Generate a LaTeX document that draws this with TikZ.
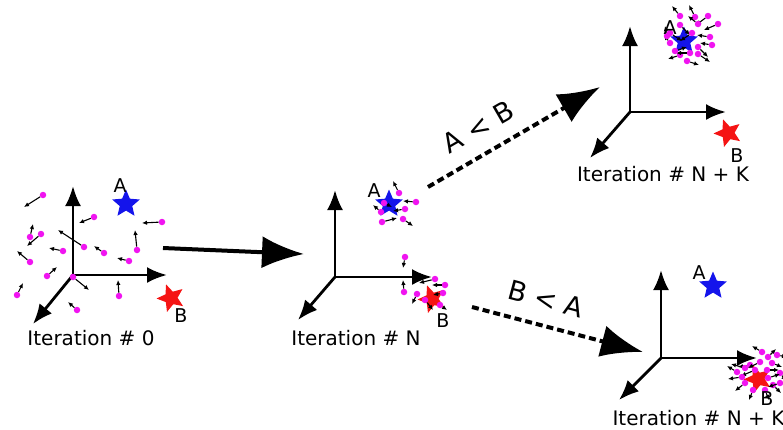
\documentclass[tikz,border=0pt]{standalone}
\usepackage{fontspec}
\setmainfont{DejaVu Sans}
\usetikzlibrary{arrows.meta,shapes.geometric}
\definecolor{dotpink}{RGB}{240,20,240}
\definecolor{starblue}{RGB}{20,20,235}
\definecolor{starred}{RGB}{245,20,20}

\begin{document}
\begin{tikzpicture}[x=1pt,y=-1pt,
  axis/.style={line width=2.8pt,-{Latex[length=20pt,width=16pt]}},
  bigarrow/.style={line width=4pt,-{Latex[length=42pt,width=32pt]}},
  dasharrow/.style={bigarrow,dash pattern=on 7pt off 4pt},
  pt/.style={circle,fill=dotpink,inner sep=0pt,minimum size=6.5pt},
  vec/.style={line width=1.1pt,-{Latex[length=5pt,width=4.5pt]}},
  tag/.style={font=\fontsize{19}{22}\selectfont},
  caption/.style={font=\fontsize{20}{24}\selectfont},
  starA/.style={star,star points=5,star point ratio=2.2,fill=starblue,inner sep=0pt,minimum size=29pt},
  starB/.style={star,star points=5,star point ratio=2.2,fill=starred,inner sep=0pt,minimum size=29pt,rotate=20}]
\useasboundingbox (0,0) rectangle (783,429);

% Iteration 0
\coordinate (o0) at (73,275);
\coordinate (o0y) at (73,186);
\coordinate (o0x) at (167,275);
\coordinate (o0z) at (33,324);
\draw[axis] (o0) -- (o0y);
\draw[axis] (o0) -- (o0x);
\draw[axis] (o0) -- (o0z);
\foreach \x/\y/\u/\v in {43/195/-19/12, 94/217/-15/6, 162/222/-20/1, 30/237/3/-13,
    41/234/-14/12, 63/251/-14/-3, 84/247/-26/-17, 104/253/-10/-7, 137/250/-2/-20,
    129/261/-12/-3, 30/262/-13/-11, 47/276/10/-9, 73/277/16/13, 17/295/6/-12,
    119/296/-1/-16, 77/310/-9/-8}
  {\node[pt] (p) at (\x,\y) {}; \draw[vec] (p) -- ++(\u,\v);}
\node[starA] (a0) at (126,204) {};
\node[tag] (la0) at (120,186) {A};
\node[starB] (b0) at (171,298) {};
\node[tag] (lb0) at (181,316) {B};
\node[caption] (c0) at (91,338) {Iteration \# 0};

\coordinate (s0) at (163,248);
\coordinate (sN) at (304,254);
\draw[bigarrow] (s0) -- (sN);

% Iteration N
\coordinate (oN) at (335,277);
\coordinate (oNy) at (335,190);
\coordinate (oNx) at (432,277);
\coordinate (oNz) at (298,320);
\draw[axis] (oN) -- (oNy);
\draw[axis] (oN) -- (oNx);
\draw[axis] (oN) -- (oNz);
\node[starA] (aN) at (389,204) {};
\node[starB] (bN) at (432,299) {};
\foreach \x/\y/\u/\v in {399/193/-6/-12, 416/202/-13/-1, 405/209/-12/2, 381/212/-8/-7,
    382/222/15/-4, 403/219/10/7, 384/203/8/4,
    405/257/-2/11, 404/292/-1/-12, 435/279/-16/4, 445/285/-13/0, 443/293/-10/2,
    417/294/-5/10, 425/300/8/10, 440/305/7/5}
  {\node[pt] (p) at (\x,\y) {}; \draw[vec] (p) -- ++(\u,\v);}
\node[tag] (laN) at (374,191) {A};
\node[tag] (lbN) at (443,321) {B};
\node[caption] (cN) at (356,338) {Iteration \# N};

\coordinate (sA) at (428,187);
\coordinate (tA) at (600,87);
\draw[dasharrow] (sA) -- (tA);
\node[font=\fontsize{27}{30}\selectfont,rotate=30] (lab) at (478,127) {A < B};
\coordinate (sB) at (472,307);
\coordinate (tB) at (643,352);
\draw[dasharrow] (sB) -- (tB);
\node[font=\fontsize{27}{30}\selectfont,rotate=-15] (lba) at (546,299) {B < A};

% Iteration N + K, A wins
\coordinate (oK) at (630,112);
\coordinate (oKy) at (630,26);
\coordinate (oKx) at (726,112);
\coordinate (oKz) at (590,158);
\draw[axis] (oK) -- (oKy);
\draw[axis] (oK) -- (oKx);
\draw[axis] (oK) -- (oKz);
\node[starA] (aK) at (684,41) {};
\foreach \x/\y/\u/\v in {680/16/-8/-10, 695/17/-6/-12, 708/16/-12/9, 718/24/-14/6,
    698/24/-10/-8, 680/25/10/10, 670/33/12/8, 692/33/-12/8, 710/37/-13/-2,
    712/45/-12/-2, 670/43/-6/-8, 698/47/10/10, 680/55/-12/4, 690/53/-14/0,
    687/61/12/4, 698/54/12/8, 675/51/12/-4, 667/36/-2/-10}
  {\node[pt] (p) at (\x,\y) {}; \draw[vec] (p) -- ++(\u,\v);}
\node[tag] (laK) at (670,28) {A};
\node[starB] (bK) at (728,133) {};
\node[tag] (lbK) at (737,156) {B};
\node[caption] (cK) at (663,174) {Iteration \# N + K};

% Iteration N + K, B wins
\coordinate (oL) at (661,358);
\coordinate (oLy) at (661,270);
\coordinate (oLx) at (757,358);
\coordinate (oLz) at (619,400);
\draw[axis] (oL) -- (oLy);
\draw[axis] (oL) -- (oLx);
\draw[axis] (oL) -- (oLz);
\node[starA] (aL) at (713,286) {};
\node[tag] (laL) at (699,273) {A};
\node[starB] (bL) at (758,379) {};
\foreach \x/\y/\u/\v in {762/352/-10/-6, 768/357/8/-8, 777/355/10/2, 750/365/-12/2,
    760/362/-12/6, 772/363/10/4, 745/368/-14/-4, 755/370/-14/6, 767/370/12/0,
    780/373/6/8, 742/377/-14/2, 768/378/12/-4, 745/383/-10/8, 773/385/8/8,
    753/390/-4/10, 765/390/4/10, 780/383/-12/4, 737/372/-10/-6}
  {\node[pt] (p) at (\x,\y) {}; \draw[vec] (p) -- ++(\u,\v);}
\node[tag] (lbL) at (767,399) {B};
\node[caption,anchor=west] (cL) at (609,418) {Iteration \# N + K};
\end{tikzpicture}
\end{document}
